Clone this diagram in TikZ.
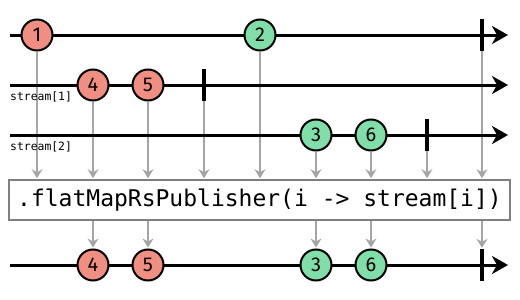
\documentclass[tikz,border=0pt]{standalone}
\usepackage{fontspec}
\setmainfont{Fira Sans}
\setmonofont{DejaVu Sans Mono}
\usepackage{tikz}
\usetikzlibrary{arrows.meta, positioning, backgrounds}
\usepackage{xcolor}

\definecolor{marblered}{RGB}{241,142,130}
\definecolor{marblegreen}{RGB}{128,222,168}
\definecolor{feedgray}{RGB}{165,165,165}
\definecolor{boxgray}{RGB}{128,128,128}

\begin{document}
\begin{tikzpicture}[
        x=1pt, y=-1pt,
        marble/.style={circle, draw, line width=2pt, minimum size=31pt, inner sep=0pt, font=\fontsize{20}{20}\selectfont},
        redball/.style={marble, fill=marblered},
        greenball/.style={marble, fill=marblegreen},
        stopbar/.style={rectangle, fill=black, inner sep=0pt, minimum width=3.2pt, minimum height=32pt},
        timeline/.style={line width=3pt, -{Stealth[length=16pt, width=18pt, inset=5pt]}},
        feed/.style={draw=feedgray, line width=1.3pt, -{Stealth[length=9pt, width=11pt, inset=3pt]}, shorten >=1pt},
        tag/.style={anchor=west, inner sep=0pt, font=\ttfamily\fontsize{11.4}{11.4}\selectfont},
        opbox/.style={rectangle, draw=boxgray, line width=1.6pt, minimum width=501pt, minimum height=40pt, inner sep=0pt, font=\ttfamily\fontsize{23}{23}\selectfont}
    ]
        \useasboundingbox (0,0) rectangle (520,300);

        % source stream and the two inner streams
        \coordinate (in0) at (10,35);   \coordinate (out0) at (508,35);
        \coordinate (in1) at (10,85);   \coordinate (out1) at (508,85);
        \coordinate (in2) at (10,135);  \coordinate (out2) at (508,135);
        \coordinate (inr) at (10,265);  \coordinate (outr) at (508,265);
        \draw[timeline] (in0) -- (out0);
        \draw[timeline] (in1) -- (out1);
        \draw[timeline] (in2) -- (out2);
        \draw[timeline] (inr) -- (outr);

        \node[tag] (lbl1) at (10,97) {stream[1]};
        \node[tag] (lbl2) at (10,147) {stream[2]};

        \node[redball] (m1) at (37,35) {1};
        \node[greenball] (m2) at (260,35) {2};
        \node[stopbar] (end0) at (482,35) {};

        \node[redball] (m4) at (93,85) {4};
        \node[redball] (m5) at (148,85) {5};
        \node[stopbar] (end1) at (204,85) {};

        \node[greenball] (m3) at (316,135) {3};
        \node[greenball] (m6) at (371,135) {6};
        \node[stopbar] (end2) at (427,135) {};

        \node[opbox] (box) at (259.5,200) {.flatMapRsPublisher(i -> stream[i])};

        % merged result
        \node[redball] (o4) at (93,265) {4};
        \node[redball] (o5) at (148,265) {5};
        \node[greenball] (o3) at (316,265) {3};
        \node[greenball] (o6) at (371,265) {6};
        \node[stopbar] (oend) at (482,265) {};

        \begin{scope}[on background layer]
            \foreach \src in {m1,m4,m5,end1,m2,m3,m6,end2,end0}
                \draw[feed] (\src.south) -- (\src.south |- box.north);
            \foreach \dst in {o4,o5,o3,o6,oend}
                \draw[feed] (\dst.north |- box.south) -- (\dst.north);
        \end{scope}
    \end{tikzpicture}
\end{document}
